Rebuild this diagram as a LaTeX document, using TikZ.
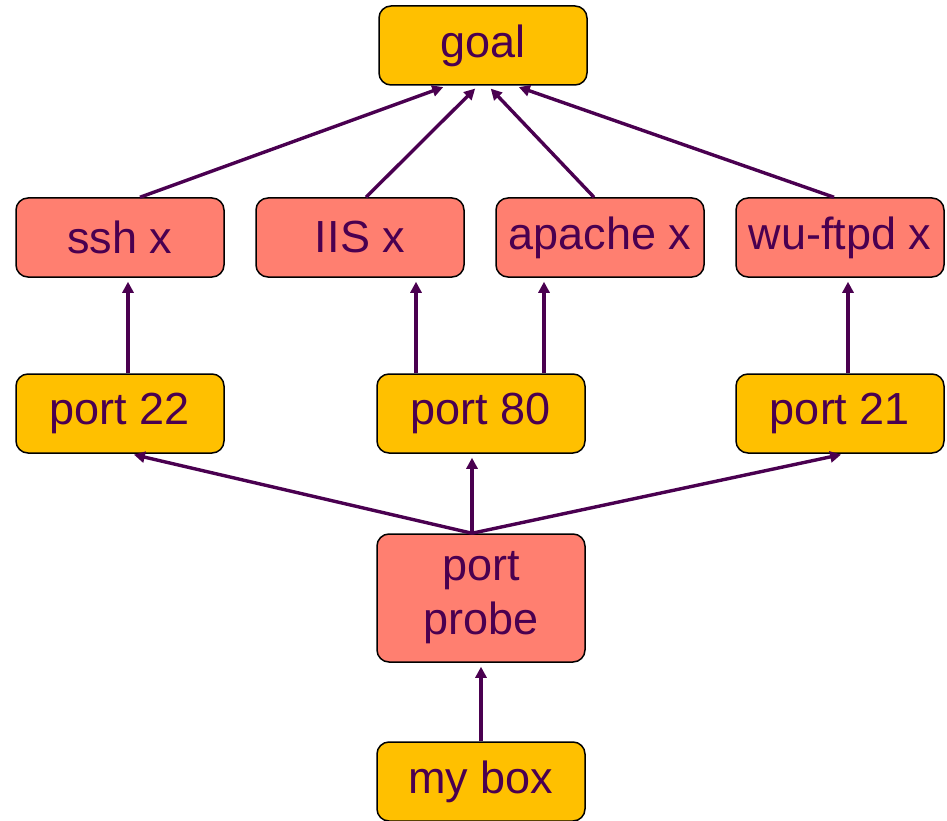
\documentclass[tikz,border=0pt]{standalone}
\usepackage{fontspec}
\setmainfont{Liberation Sans}
\usepackage{xcolor}
\usetikzlibrary{positioning,arrows.meta}
\definecolor{boxgold}{HTML}{FFC000}
\definecolor{boxred}{HTML}{FF7F70}
\definecolor{inkpurple}{HTML}{4A0050}

\begin{document}
\begin{tikzpicture}[%
  x=1pt, y=-1pt,
  box/.style={draw=black, line width=1.5pt, rounded corners=12pt,
    minimum width=208pt, minimum height=79pt, inner sep=0pt,
    text=inkpurple, align=center, font=\fontsize{45}{54}\selectfont},
  goldbox/.style={box, fill=boxgold},
  redbox/.style={box, fill=boxred},
  link/.style={draw=inkpurple, line width=3.4pt, shorten >=4pt,
    -{Triangle[length=11pt,width=11pt]}}]
\useasboundingbox (0,0) rectangle (947,821);
% nodes
\node[goldbox] (goal) at (483,45.5) {goal};
\node[redbox] (ssh) at (120,237.5) {ssh x};
\node[redbox] (iis) at (360,237.5) {IIS x};
\node[redbox] (apache) at (600,237.5) {apache x};
\node[redbox] (wuftpd) at (840,237.5) {wu-ftpd x};
\node[goldbox] (p22) at (120,413.5) {port 22};
\node[goldbox] (p80) at (481,413.5) {port 80};
\node[goldbox] (p21) at (840,413.5) {port 21};
\node[redbox, minimum height=128pt] (probe) at (481,598) {port\\probe};
\node[goldbox] (mybox) at (481,781.5) {my box};
% exploits to goal
\draw[link] ([xshift=20pt]ssh.north) -- ([xshift=-36pt]goal.south);
\draw[link] ([xshift=6pt]iis.north) -- ([xshift=-5pt]goal.south);
\draw[link] ([xshift=-6pt]apache.north) -- ([xshift=5pt]goal.south);
\draw[link] ([xshift=-6pt]wuftpd.north) -- ([xshift=32pt]goal.south);
% ports to exploits
\draw[link] ([xshift=8pt]p22.north) -- ([xshift=8pt]ssh.south);
\draw[link] ([xshift=-65pt]p80.north) -- ([xshift=56pt]iis.south);
\draw[link] ([xshift=63pt]p80.north) -- ([xshift=-56pt]apache.south);
\draw[link] ([xshift=8pt]p21.north) -- ([xshift=8pt]wuftpd.south);
% probe to ports
\draw[link] ([xshift=-9pt]probe.north) -- ([xshift=10pt]p22.south);
\draw[link] ([xshift=-9pt]probe.north) -- ([xshift=-9pt]p80.south);
\draw[link] ([xshift=-9pt]probe.north) -- ([xshift=5pt]p21.south);
% my box to probe
\draw[link] (mybox) -- (probe);
\end{tikzpicture}
\end{document}
